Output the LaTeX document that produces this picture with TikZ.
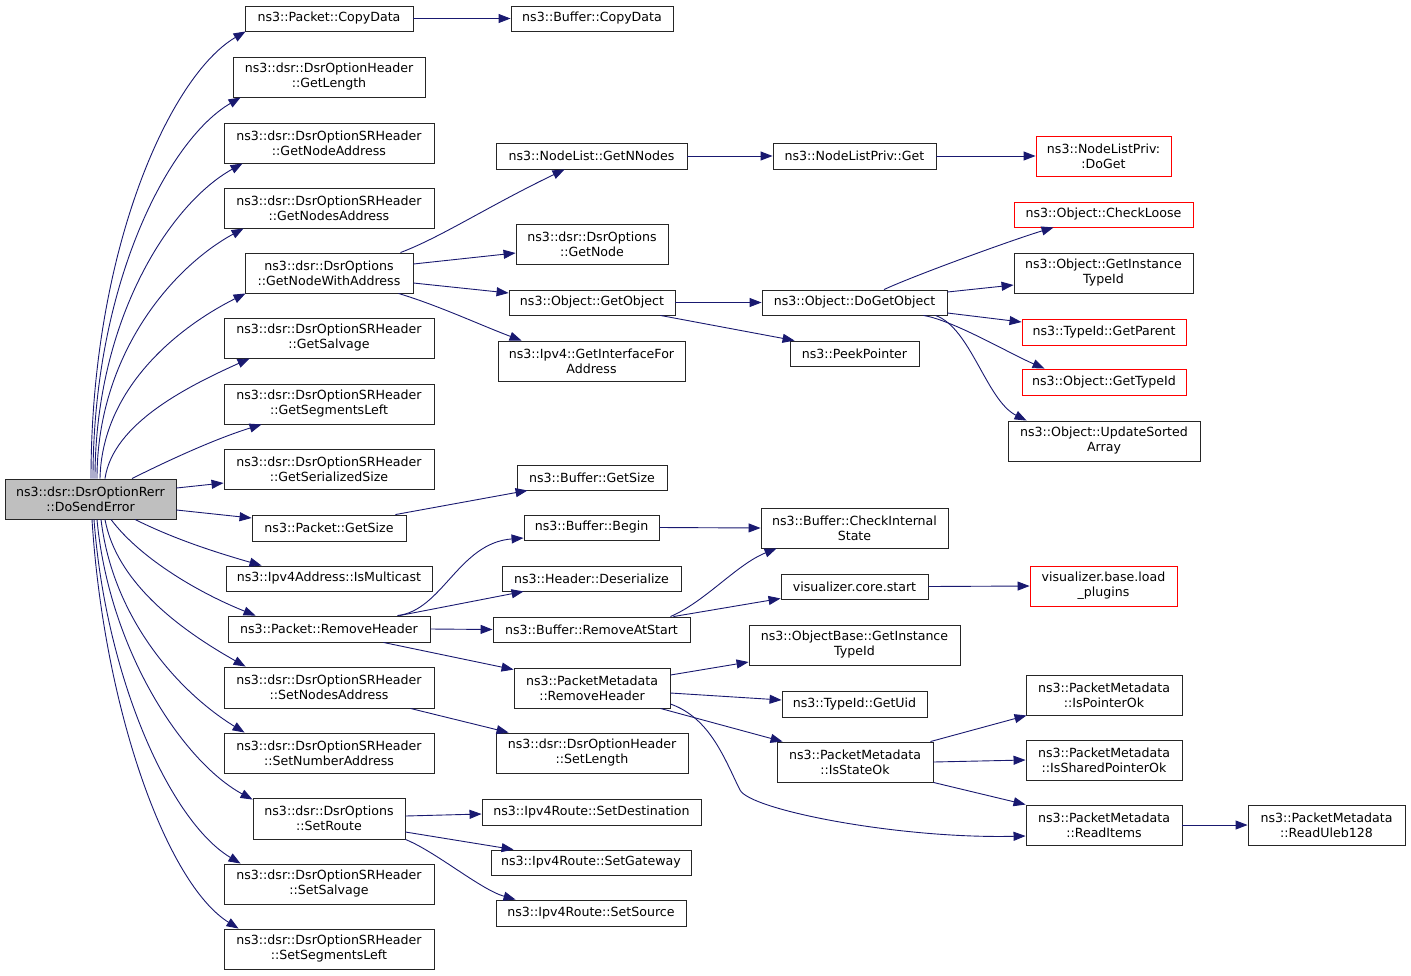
\documentclass[tikz,border=0pt]{standalone}
\usepackage{fontspec}
\setmainfont{DejaVu Sans}
\usetikzlibrary{arrows.meta}
\definecolor{edgec}{RGB}{25,25,112}
\newcommand\dxbox[7][]{%
  \pgfmathsetmacro\dxw{#5-#3}%
  \pgfmathsetmacro\dxh{#6-#4}%
  \node[box,#1,minimum width=\dxw pt,minimum height=\dxh pt] (#2) at ({(#3+#5)/2},{(#4+#6)/2}) {#7};%
}
\begin{document}
\begin{tikzpicture}[x=1pt,y=-1pt,
  box/.style={draw=black!85,line width=0.9pt,fill=white,inner sep=0pt,align=center,
    font=\fontsize{12.6}{15}\selectfont},
  redbox/.style={draw=red},
  rootbox/.style={fill=black!25},
  ed/.style={edgec,line width=0.9pt,-{Triangle[length=12pt,width=9pt]}}]
\useasboundingbox (0,0) rectangle (1411,975);
% nodes
\dxbox[rootbox]{root}{5}{479}{176}{519}{ns3::dsr::DsrOptionRerr\\::DoSendError}
\dxbox{copy}{245}{6}{413}{31}{ns3::Packet::CopyData}
\dxbox{bcopy}{511}{6}{673}{31}{ns3::Buffer::CopyData}
\dxbox{glen}{233}{57}{425}{97}{ns3::dsr::DsrOptionHeader\\::GetLength}
\dxbox{gna}{224}{123}{434}{163}{ns3::dsr::DsrOptionSRHeader\\::GetNodeAddress}
\dxbox{gnsa}{224}{188}{434}{228}{ns3::dsr::DsrOptionSRHeader\\::GetNodesAddress}
\dxbox{gnwa}{245}{253}{413}{293}{ns3::dsr::DsrOptions\\::GetNodeWithAddress}
\dxbox{gsal}{224}{318}{434}{358}{ns3::dsr::DsrOptionSRHeader\\::GetSalvage}
\dxbox{gsl}{224}{384}{434}{424}{ns3::dsr::DsrOptionSRHeader\\::GetSegmentsLeft}
\dxbox{gser}{224}{449}{434}{489}{ns3::dsr::DsrOptionSRHeader\\::GetSerializedSize}
\dxbox{pgs}{252}{515}{406}{541}{ns3::Packet::GetSize}
\dxbox{ismc}{226}{566}{432}{591}{ns3::Ipv4Address::IsMulticast}
\dxbox{prh}{228}{616}{430}{642}{ns3::Packet::RemoveHeader}
\dxbox{sna}{224}{667}{434}{708}{ns3::dsr::DsrOptionSRHeader\\::SetNodesAddress}
\dxbox{snum}{224}{733}{434}{773}{ns3::dsr::DsrOptionSRHeader\\::SetNumberAddress}
\dxbox{sr}{253}{798}{405}{839}{ns3::dsr::DsrOptions\\::SetRoute}
\dxbox{ssal}{224}{864}{434}{904}{ns3::dsr::DsrOptionSRHeader\\::SetSalvage}
\dxbox{ssl}{224}{929}{434}{969}{ns3::dsr::DsrOptionSRHeader\\::SetSegmentsLeft}
\dxbox{gnn}{496}{143}{687}{169}{ns3::NodeList::GetNNodes}
\dxbox{nlpget}{773}{143}{936}{169}{ns3::NodeListPriv::Get}
\dxbox[redbox]{doget}{1036}{136}{1171}{176}{ns3::NodeListPriv:\\:DoGet}
\dxbox{gnode}{516}{224}{668}{264}{ns3::dsr::DsrOptions\\::GetNode}
\dxbox{gobj}{509}{290}{675}{315}{ns3::Object::GetObject}
\dxbox{dgo}{762}{290}{947}{315}{ns3::Object::DoGetObject}
\dxbox{gifa}{498}{341}{685}{381}{ns3::Ipv4::GetInterfaceFor\\Address}
\dxbox{peek}{790}{341}{919}{366}{ns3::PeekPointer}
\dxbox[redbox]{cl}{1014}{202}{1193}{227}{ns3::Object::CheckLoose}
\dxbox{giti}{1014}{253}{1193}{293}{ns3::Object::GetInstance\\TypeId}
\dxbox[redbox]{gpar}{1022}{319}{1186}{345}{ns3::TypeId::GetParent}
\dxbox[redbox]{gtid}{1022}{369}{1186}{395}{ns3::Object::GetTypeId}
\dxbox{usa}{1008}{421}{1200}{461}{ns3::Object::UpdateSorted\\Array}
\dxbox{bgs}{517}{465}{667}{490}{ns3::Buffer::GetSize}
\dxbox{bbeg}{524}{515}{659}{540}{ns3::Buffer::Begin}
\dxbox{cis}{761}{508}{948}{548}{ns3::Buffer::CheckInternal\\State}
\dxbox{hdes}{502}{566}{681}{591}{ns3::Header::Deserialize}
\dxbox{vcs}{781}{574}{928}{599}{visualizer.core.start}
\dxbox[redbox]{lp}{1030}{566}{1177}{606}{visualizer.base.load\\\_plugins}
\dxbox{bras}{493}{617}{690}{642}{ns3::Buffer::RemoveAtStart}
\dxbox{obgi}{749}{625}{960}{665}{ns3::ObjectBase::GetInstance\\TypeId}
\dxbox{pmrh}{514}{668}{670}{708}{ns3::PacketMetadata\\::RemoveHeader}
\dxbox{uid}{782}{691}{927}{717}{ns3::TypeId::GetUid}
\dxbox{iso}{777}{742}{933}{782}{ns3::PacketMetadata\\::IsStateOk}
\dxbox{setlen}{496}{733}{688}{773}{ns3::dsr::DsrOptionHeader\\::SetLength}
\dxbox{ipo}{1026}{675}{1182}{715}{ns3::PacketMetadata\\::IsPointerOk}
\dxbox{ispo}{1026}{740}{1182}{780}{ns3::PacketMetadata\\::IsSharedPointerOk}
\dxbox{ri}{1026}{805}{1182}{845}{ns3::PacketMetadata\\::ReadItems}
\dxbox{ru}{1248}{805}{1405}{845}{ns3::PacketMetadata\\::ReadUleb128}
\dxbox{sdst}{482}{799}{701}{825}{ns3::Ipv4Route::SetDestination}
\dxbox{sgw}{491}{850}{691}{875}{ns3::Ipv4Route::SetGateway}
\dxbox{ssrc}{496}{900}{686}{926}{ns3::Ipv4Route::SetSource}
% edges from root, upward
\draw[ed] ([xshift=0.5pt]root.north) .. controls +(0,-230) and +(-75,44) .. ([xshift=1pt]copy.south west);
\draw[ed] ([xshift=2.5pt]root.north) .. controls +(0,-195) and +(-72,42) .. ([xshift=8pt]glen.south west);
\draw[ed] ([xshift=4.5pt]root.north) .. controls +(0,-160) and +(-72,40) .. ([xshift=19pt]gna.south west);
\draw[ed] ([xshift=6.5pt]root.north) .. controls +(0,-125) and +(-70,38) .. ([xshift=20pt]gnsa.south west);
\draw[ed] ([xshift=9.5pt]root.north) .. controls +(2,-90) and +(-68,34) .. ([xshift=1pt]gnwa.south west);
\draw[ed] ([xshift=14.5pt]root.north) .. controls +(8,-55) and +(-62,28) .. ([xshift=26pt]gsal.south west);
\draw[ed] ([xshift=41.5pt]root.north) .. controls +(40,-20) and +(-45,14) .. ([xshift=38pt]gsl.south west);
\draw[ed] ([yshift=11pt]root.east) -- ([yshift=-14pt]gser.west);
\draw[ed] ([yshift=-11pt]root.east) -- ([yshift=10pt]pgs.west);
% edges from root, downward
\draw[ed] ([xshift=44.5pt]root.south) .. controls +(40,20) and +(-45,-13) .. ([xshift=36pt]ismc.north west);
\draw[ed] ([xshift=20.5pt]root.south) .. controls +(30,40) and +(-55,-22) .. ([xshift=28pt]prh.north west);
\draw[ed] ([xshift=14.5pt]root.south) .. controls +(12,65) and +(-62,-35) .. ([xshift=22pt]sna.north west);
\draw[ed] ([xshift=10.5pt]root.south) .. controls +(12,100) and +(-65,-40) .. ([xshift=21pt]snum.north west);
\draw[ed] ([xshift=6.5pt]root.south) .. controls +(12,130) and +(-70,-38) .. ([yshift=-2pt]sr.north west);
\draw[ed] ([xshift=3.5pt]root.south) .. controls +(12,160) and +(-70,-42) .. ([xshift=17pt]ssal.north west);
\draw[ed] ([xshift=1.5pt]root.south) .. controls +(12,190) and +(-72,-45) .. ([xshift=15pt]ssl.north west);
% second level
\draw[ed] (copy.east) -- (bcopy.west);
\draw[ed] ([xshift=-13pt]gnwa.north east) .. controls +(40,-15) and +(-75,36) .. ([xshift=69pt]gnn.south west);
\draw[ed] ([yshift=9pt]gnwa.east) -- ([yshift=-9pt]gnode.west);
\draw[ed] ([yshift=-10pt]gnwa.east) -- ([yshift=9.5pt]gobj.west);
\draw[ed] ([xshift=-15pt]gnwa.south east) .. controls +(40,12) and +(-40,-15) .. ([xshift=24pt]gifa.north west);
\draw[ed] (gnn.east) -- (nlpget.west);
\draw[ed] (nlpget.east) -- (doget.west);
\draw[ed] (gobj.east) -- (dgo.west);
\draw[ed] ([xshift=-15pt]gobj.south east) -- ([xshift=5pt]peek.north west);
\draw[ed] ([xshift=29.5pt]dgo.north) .. controls +(30,-14) and +(-40,12) .. ([xshift=40pt]cl.south west);
\draw[ed] ([yshift=10.5pt]dgo.east) -- ([yshift=-12pt]giti.west);
\draw[ed] ([yshift=-10.5pt]dgo.east) -- ([yshift=10pt]gpar.west);
\draw[ed] ([xshift=-24pt]dgo.south east) .. controls +(30,5) and +(-35,-15) .. ([xshift=23pt]gtid.north west);
\draw[ed] ([xshift=-12pt]dgo.south east) .. controls +(35,12) and +(-40,-20) .. ([xshift=19pt]usa.north west);
\draw[ed] ([xshift=-11pt]pgs.north east) -- ([xshift=11pt]bgs.south west);
\draw[ed] ([xshift=-33pt]prh.north east) .. controls +(45,-5) and +(-65,5) .. ([yshift=-10.5pt]bbeg.west);
\draw[ed] ([xshift=-31pt]prh.north east) -- ([xshift=22pt]hdes.south west);
\draw[ed] (prh.east) -- (bras.west);
\draw[ed] ([xshift=-47pt]prh.south east) -- ([yshift=-2pt]pmrh.north west);
\draw[ed] (bbeg.east) -- (cis.west);
\draw[ed] ([xshift=-20pt]bras.north east) .. controls +(35,-15) and +(-40,16) .. ([xshift=16pt]cis.south west);
\draw[ed] ([xshift=-17pt]bras.north east) -- ([yshift=1pt]vcs.south west);
\draw[ed] (vcs.east) -- (lp.west);
\draw[ed] ([yshift=13pt]pmrh.east) -- ([yshift=-17pt]obgi.west);
\draw[ed] ([yshift=-5pt]pmrh.east) -- ([yshift=4pt]uid.west);
\draw[ed] ([xshift=-10pt]pmrh.south east) -- ([xshift=6pt]iso.north west);
\coordinate (rimid) at (740,790);
\draw[ed] ([yshift=-16pt]pmrh.east) .. controls +(40,14) and +(-15,-30) .. (rimid) .. controls +(10,20) and +(-126,3) .. ([yshift=-11pt]ri.west);
\draw[ed] ([xshift=-3pt]iso.north east) -- ([xshift=1pt]ipo.south west);
\draw[ed] (iso.east) -- (ispo.west);
\draw[ed] (iso.south east) -- (ri.north west);
\draw[ed] (ri.east) -- (ru.west);
\draw[ed] ([xshift=-24pt]sna.south east) -- ([xshift=13pt]setlen.north west);
\draw[ed] ([yshift=2.5pt]sr.east) -- ([yshift=-2pt]sdst.west);
\draw[ed] ([yshift=-13.5pt]sr.east) -- ([xshift=23pt]sgw.north west);
\draw[ed] (sr.south east) .. controls +(30,12) and +(-35,-10) .. ([xshift=20pt]ssrc.north west);
\end{tikzpicture}
\end{document}
